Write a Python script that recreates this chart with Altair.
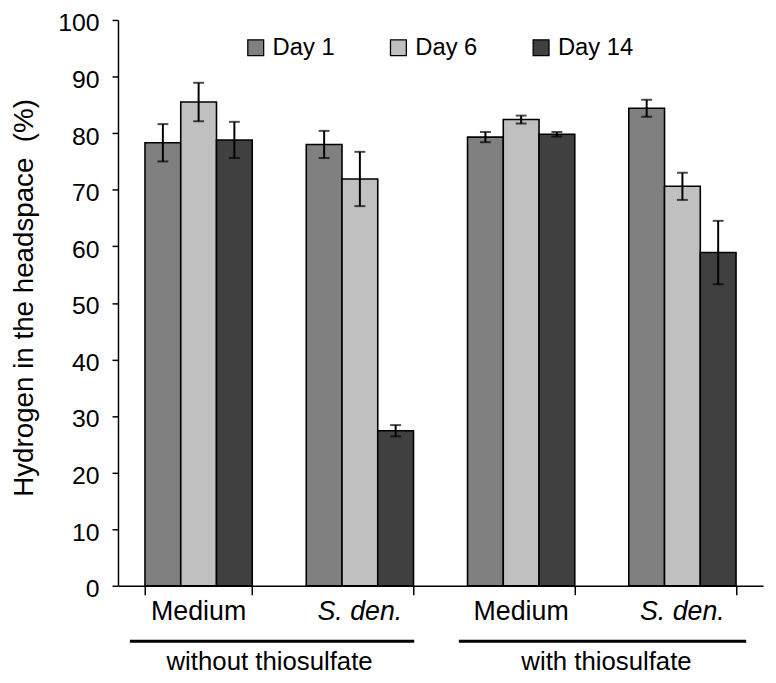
import altair as alt
import pandas as pd

categories = ["Medium|without", "S. den.|without", "Medium|with", "S. den.|with"]
cat_labels = ["Medium", "S. den.", "Medium", "S. den."]
days = ["Day 1", "Day 6", "Day 14"]
day1 = [78.3, 78.0, 79.3, 84.4]
day6 = [85.5, 71.9, 82.4, 70.6]
day14 = [78.8, 27.4, 79.8, 58.9]
err1 = [3.3, 2.4, 0.9, 1.5]
err6 = [3.4, 4.8, 0.7, 2.4]
err14 = [3.2, 1.0, 0.4, 5.6]
groups = ["without thiosulfate", "with thiosulfate"]

rows = []
for i, c in enumerate(categories):
    for d, vals, errs in zip(days, [day1, day6, day14], [err1, err6, err14]):
        rows.append({"cat": c, "day": d, "v": vals[i], "lo": vals[i] - errs[i], "hi": vals[i] + errs[i]})
df = pd.DataFrame(rows)

labels_df = pd.DataFrame({"cat": categories, "lab": cat_labels})
normal_df = labels_df[~labels_df["lab"].str.startswith("S.")]
italic_df = labels_df[labels_df["lab"].str.startswith("S.")]

FONT = "Liberation Sans"
TOP = 9
H = 571
xscale = alt.Scale(domain=categories, paddingInner=0.335, paddingOuter=0.1675)
x_enc = alt.X("cat:N", scale=xscale, sort=categories,
              axis=alt.Axis(title=None, labels=False, tickBand="extent", tickSize=9,
                            tickColor="black", domainColor="black", domainWidth=1.5, tickWidth=1.5))
xo = alt.XOffset("day:N", sort=days, scale=alt.Scale(domain=days, paddingInner=0, paddingOuter=0))
xplain = alt.X("cat:N", scale=xscale, sort=categories)

bars = alt.Chart(df).mark_bar(stroke="black", strokeWidth=1.6).encode(
    x=x_enc,
    xOffset=xo,
    y=alt.Y("v:Q", scale=alt.Scale(domain=[0, 100], nice=False),
            axis=alt.Axis(title="Hydrogen in the headspace\u00a0 (%)", values=list(range(0, 101, 10)),
                          grid=False, tickSize=6, tickColor="black", domainColor="black",
                          domainWidth=1.5, tickWidth=1.5, labelFontSize=25, labelColor="black",
                          labelFont=FONT, labelOffset=3, titleFont=FONT, titleFontSize=28,
                          titleFontWeight="normal", titleColor="black", labelPadding=13,
                          titlePadding=20, titleY=280)),
    color=alt.Color("day:N", sort=days,
                    scale=alt.Scale(domain=days, range=["#808080", "#c0c0c0", "#404040"]),
                    legend=alt.Legend(title=None, orient="none", legendX=127, legendY=16,
                                      direction="horizontal", columns=3, columnPadding=52,
                                      symbolType="square", symbolSize=256, symbolStrokeColor="black",
                                      symbolStrokeWidth=1.3, labelFont=FONT, labelFontSize=24,
                                      labelColor="black", labelOffset=5)),
)

rules = alt.Chart(df).mark_rule(color="black", strokeWidth=2).encode(
    x=xplain, xOffset=xo, y="lo:Q", y2="hi:Q")
caps_lo = alt.Chart(df).mark_tick(color="black", thickness=2, size=11).encode(
    x=xplain, xOffset=xo, y="lo:Q")
caps_hi = alt.Chart(df).mark_tick(color="black", thickness=2, size=11).encode(
    x=xplain, xOffset=xo, y="hi:Q")

cat_text_n = alt.Chart(normal_df).mark_text(font=FONT, fontSize=27, color="black", baseline="middle").encode(
    x=xplain, y=alt.value(H + 27), text="lab:N")
cat_text_i = alt.Chart(italic_df).mark_text(font=FONT, fontSize=27, color="black", baseline="middle",
                                            fontStyle="italic").encode(
    x=xplain, y=alt.value(H + 27), text="lab:N")

group1 = alt.Chart(pd.DataFrame({"g": [groups[0]]})).mark_text(
    font=FONT, fontSize=26, color="black", baseline="middle").encode(
    x=alt.value(153), y=alt.value(H + 77), text="g:N")
group2 = alt.Chart(pd.DataFrame({"g": [groups[1]]})).mark_text(
    font=FONT, fontSize=26, color="black", baseline="middle").encode(
    x=alt.value(493), y=alt.value(H + 77), text="g:N")

line1 = alt.Chart(pd.DataFrame({"a": [0]})).mark_rule(color="black", strokeWidth=3).encode(
    x=alt.value(12), x2=alt.value(299), y=alt.value(H + 56))
line2 = alt.Chart(pd.DataFrame({"a": [0]})).mark_rule(color="black", strokeWidth=3).encode(
    x=alt.value(344), x2=alt.value(634), y=alt.value(H + 56))

chart = alt.layer(bars, rules, caps_lo, caps_hi, cat_text_n, cat_text_i,
                  group1, group2, line1, line2).properties(
    width=651, height=H,
    autosize=alt.AutoSizeParams(type="none"),
    padding={"left": 111, "top": TOP, "right": 5, "bottom": 93},
    background="white",
).configure_view(stroke=None)

chart.save("out.html", embed_options={"renderer": "svg", "actions": False})
